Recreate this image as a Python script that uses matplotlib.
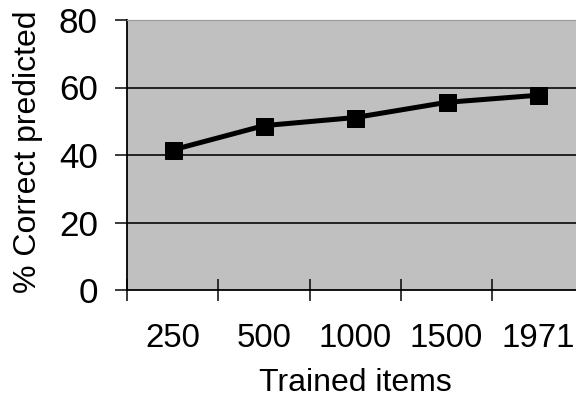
import numpy as np
import matplotlib
matplotlib.use("Agg")
import matplotlib.pyplot as plt
from matplotlib.ticker import FixedLocator, NullFormatter

# data
categories = ["250", "500", "1000", "1500", "1971"]
correct = [41.5, 48.7, 51.1, 55.6, 57.7]
yticks = [0, 20, 40, 60, 80]

plt.rcParams["font.family"] = ["Liberation Sans", "DejaVu Sans"]

W, H, dpi = 576, 412, 72
fig = plt.figure(figsize=(W / dpi, H / dpi), dpi=dpi)
fig.patch.set_facecolor("white")

# plot area runs past the right edge of the image, as in the original
left, right, top, bottom = 127, 583.5, 20, 290
ax = fig.add_axes([left / W, 1 - bottom / H, (right - left) / W, (bottom - top) / H])
ax.set_facecolor("#c0c0c0")

x = np.arange(len(categories))
ax.plot(x, correct, color="black", lw=5, marker="s", ms=17, solid_joinstyle="miter", zorder=5)

ax.set_xlim(-0.5, len(categories) - 0.5)
ax.set_ylim(0, 80)

# y axis
ax.set_yticks(yticks)
ax.set_yticklabels([str(v) for v in yticks], fontsize=35)
ax.tick_params(axis="y", direction="out", length=12, width=1.5, pad=17, colors="black")
ax.yaxis.grid(True, color="black", lw=1.6)
ax.set_axisbelow(True)
for gl, v in zip(ax.get_ygridlines(), yticks):
    if v in (0, 80):
        gl.set_visible(False)

# x axis: ticks between categories, labels at centres
ax.xaxis.set_major_locator(FixedLocator(np.arange(len(categories) + 1) - 0.5))
ax.xaxis.set_major_formatter(NullFormatter())
ax.xaxis.set_minor_locator(FixedLocator(x))
ax.set_xticklabels(categories, minor=True, fontsize=33)
ax.tick_params(axis="x", which="major", direction="inout", length=22, width=1.5)
ax.tick_params(axis="x", which="minor", length=0, pad=33)

for s in ("left", "bottom"):
    ax.spines[s].set_linewidth(1.8)
    ax.spines[s].set_color("black")
ax.spines["top"].set_color("#9a9a9a")
ax.spines["top"].set_linewidth(1.2)
ax.spines["right"].set_visible(False)

fig.text(355 / W, 1 - 383 / H, "Trained items", fontsize=32, ha="center", va="center")
fig.text(28 / W, 1 - 152 / H, "% Correct predicted", fontsize=32, ha="center", va="center",
         rotation=90)

fig.savefig("out.png", dpi=dpi)
